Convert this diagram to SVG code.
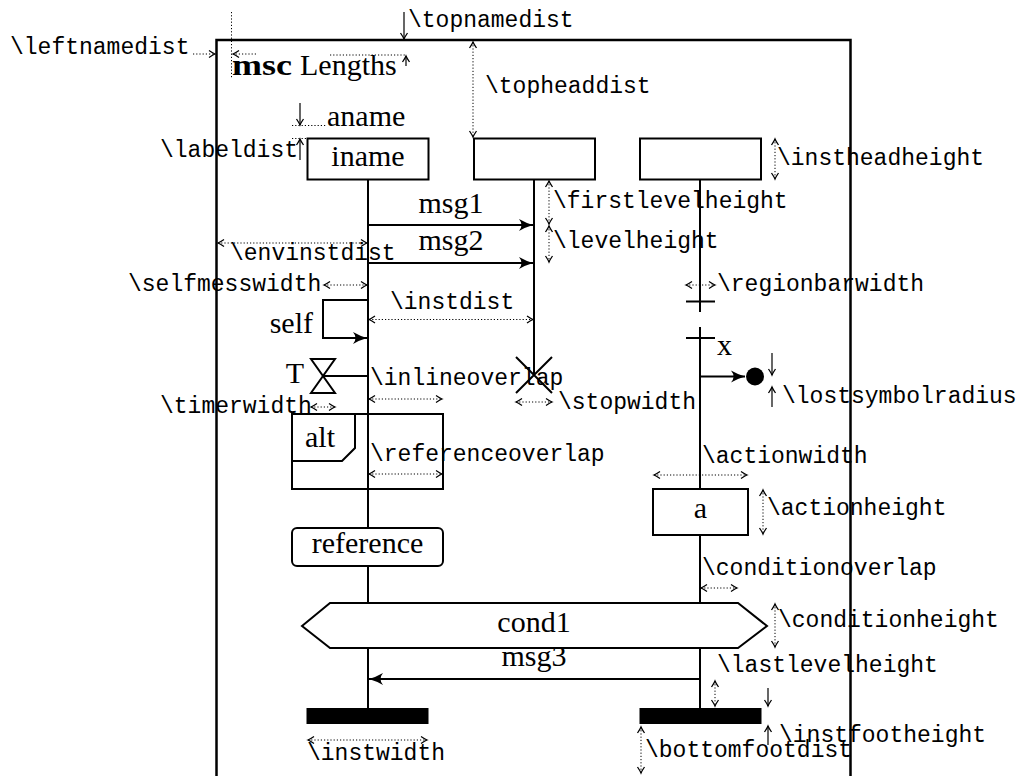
<svg xmlns="http://www.w3.org/2000/svg" width="1022" height="776" viewBox="0 0 1022 776">
<style>
.rm{font-family:"Liberation Serif","DejaVu Serif",serif;font-size:30px;fill:#000}
.tt{font-family:"Liberation Mono","DejaVu Sans Mono",monospace;font-size:23px;fill:#000}
.c{text-anchor:middle}
.e{text-anchor:end}
.ln{stroke:#000;stroke-width:2;fill:none}
.box{stroke:#000;stroke-width:2;fill:#fff}
.msg{stroke:#000;stroke-width:2;fill:none;marker-end:url(#m)}
.dim{stroke:#000;stroke-width:1;stroke-dasharray:1.2 2;fill:none;marker-start:url(#d);marker-end:url(#d)}
.dimE{stroke:#000;stroke-width:1;stroke-dasharray:1.2 2;fill:none;marker-end:url(#d)}
.dot{stroke:#000;stroke-width:1;stroke-dasharray:1.2 2;fill:none}
.sa{stroke:#000;stroke-width:1.2;fill:none;marker-end:url(#s)}
</style>
<defs>
<marker id="m" viewBox="-16 -8 18 16" markerWidth="18" markerHeight="16" refX="0" refY="0" orient="auto" markerUnits="userSpaceOnUse">
<path d="M0,0 Q-7,-2 -14,-6 Q-9,0 -14,6 Q-7,2 0,0Z" fill="#000"/>
</marker>
<marker id="d" viewBox="-8 -5 10 10" markerWidth="10" markerHeight="10" refX="0" refY="0" orient="auto-start-reverse" markerUnits="userSpaceOnUse">
<path d="M-6,-3.5 Q-2,-0.8 0,0 Q-2,0.8 -6,3.5" fill="none" stroke="#000" stroke-width="1.3"/>
</marker>
<marker id="s" viewBox="-8 -5 10 10" markerWidth="10" markerHeight="10" refX="0" refY="0" orient="auto" markerUnits="userSpaceOnUse">
<path d="M-6,-3.5 Q-2,-0.8 0,0 Q-2,0.8 -6,3.5" fill="none" stroke="#000" stroke-width="1.3"/>
</marker>
</defs>
<rect width="1022" height="776" fill="#fff"/>

<g id="frame">
<path d="M216.5,776 V40 H850.5 V776" stroke="#000" stroke-width="2.5" fill="none"/>
<text class="rm" x="232" y="75" font-weight="bold" textLength="60" lengthAdjust="spacingAndGlyphs">msc</text>
<text class="rm" x="300" y="75">Lengths</text>
</g>

<g id="lifelines">
<line class="ln" x1="368" y1="179" x2="368" y2="708"/>
<line class="ln" x1="534" y1="179" x2="534" y2="375"/>
<line class="ln" x1="700" y1="179" x2="700" y2="312"/>
<line class="ln" x1="700" y1="327" x2="700" y2="708"/>
</g>

<g id="inst1">
<rect class="box" x="307.5" y="138.5" width="121" height="41"/>
<text class="rm c" x="368" y="166">iname</text>
<text class="rm" x="327" y="126">aname</text>
<rect x="306.5" y="708" width="122" height="16" fill="#000"/>
</g>
<g id="inst2">
<rect class="box" x="474" y="138.5" width="121" height="41"/>
<path class="ln" d="M516,357 L552,393 M552,357 L516,393"/>
</g>
<g id="inst3">
<rect class="box" x="640" y="138.5" width="121" height="41"/>
<line class="ln" x1="686" y1="301.5" x2="715" y2="301.5"/>
<line class="ln" x1="686" y1="338" x2="715" y2="338"/>
<rect x="639.5" y="708" width="122" height="16" fill="#000"/>
</g>

<g id="timer">
<path class="ln" d="M311,359 H335 L311,393 H335 Z"/>
<text class="rm e" x="304" y="383">T</text>
</g>

<g id="alt">
<rect x="292" y="414" width="151" height="75" class="ln"/>
<path class="ln" d="M355,414 V448 L342,461 H292"/>
<text class="rm" x="305" y="447">alt</text>
</g>

<g id="reference">
<rect class="box" x="292" y="528" width="151" height="38" rx="5"/>
<text class="rm c" x="367.5" y="553">reference</text>
</g>

<g id="action">
<rect class="box" x="653" y="489" width="95" height="46"/>
<text class="rm c" x="700.5" y="518">a</text>
</g>

<g id="condition">
<polygon class="box" points="302,626 330,603 738,603 767,626 738,648 330,648"/>
<text class="rm c" x="534" y="632">cond1</text>
</g>

<g id="lost">
<circle cx="755" cy="376.5" r="9" fill="#000"/>
<text class="rm" x="717" y="355">x</text>
</g>

<g id="connectors">
<line class="msg" x1="369" y1="225" x2="533" y2="225"/>
<text class="rm c" x="451" y="213">msg1</text>
<line class="msg" x1="369" y1="263" x2="533" y2="263"/>
<text class="rm c" x="451" y="250">msg2</text>
<path class="msg" d="M368,300 H323 V338 H367"/>
<text class="rm e" x="313" y="333">self</text>
<line class="ln" x1="323" y1="376" x2="368" y2="376"/>
<line class="msg" x1="700" y1="376.5" x2="745" y2="376.5"/>
<line class="msg" x1="699" y1="679" x2="369" y2="679"/>
<text class="rm c" x="534" y="666">msg3</text>
</g>

<g id="dimensions">
<line class="dot" x1="231.5" y1="12" x2="231.5" y2="78"/>
<line class="dimE" x1="193" y1="54" x2="215" y2="54"/>
<line class="dimE" x1="256" y1="54" x2="233" y2="54"/>
<text class="tt" x="10" y="54">\leftnamedist</text>

<line class="sa" x1="404" y1="12" x2="404" y2="39"/>
<line class="sa" x1="406" y1="66" x2="406" y2="56"/>
<line class="dot" x1="330" y1="55" x2="405" y2="55"/>
<text class="tt" x="408" y="27">\topnamedist</text>

<line class="dim" x1="473" y1="42" x2="473" y2="137"/>
<text class="tt" x="485" y="93">\topheaddist</text>

<line class="sa" x1="300" y1="103" x2="300" y2="125"/>
<line class="dot" x1="292" y1="125.5" x2="326" y2="125.5"/>
<line class="sa" x1="300" y1="160" x2="300" y2="139"/>
<line class="dot" x1="292" y1="138.5" x2="306" y2="138.5"/>
<text class="tt" x="160" y="157">\labeldist</text>

<line class="dim" x1="775" y1="139" x2="775" y2="179"/>
<text class="tt" x="777" y="165">\instheadheight</text>

<line class="dim" x1="549" y1="181" x2="549" y2="224"/>
<text class="tt" x="553" y="208">\firstlevelheight</text>
<line class="dim" x1="549" y1="226" x2="549" y2="262"/>
<text class="tt" x="553" y="248">\levelheight</text>

<line class="dim" x1="218" y1="243" x2="367" y2="243"/>
<text class="tt" x="230" y="260">\envinstdist</text>

<line class="dim" x1="324" y1="285" x2="367" y2="285"/>
<text class="tt" x="128" y="291">\selfmesswidth</text>

<line class="dim" x1="686" y1="285" x2="715" y2="285"/>
<text class="tt" x="717" y="291">\regionbarwidth</text>

<line class="dim" x1="369" y1="319.5" x2="533" y2="319.5"/>
<text class="tt" x="390" y="309">\instdist</text>

<line class="sa" x1="772" y1="353" x2="772" y2="375"/>
<line class="sa" x1="772" y1="407" x2="772" y2="387"/>
<text class="tt" x="782" y="403">\lostsymbolradius</text>

<line class="dim" x1="369" y1="399" x2="442" y2="399"/>
<text class="tt" x="370" y="385">\inlineoverlap</text>

<line class="dim" x1="311" y1="407" x2="335" y2="407"/>
<text class="tt" x="160" y="413">\timerwidth</text>

<line class="dim" x1="516" y1="402" x2="552" y2="402"/>
<text class="tt" x="558" y="409">\stopwidth</text>

<line class="dim" x1="369" y1="474" x2="442" y2="474"/>
<text class="tt" x="370" y="461">\referenceoverlap</text>

<line class="dim" x1="654" y1="475" x2="747" y2="475"/>
<text class="tt" x="702" y="463">\actionwidth</text>

<line class="dim" x1="763" y1="490" x2="763" y2="534"/>
<text class="tt" x="767" y="515">\actionheight</text>

<line class="dim" x1="701" y1="588" x2="737" y2="588"/>
<text class="tt" x="702" y="575">\conditionoverlap</text>

<line class="dim" x1="775" y1="604" x2="775" y2="647"/>
<text class="tt" x="778" y="627">\conditionheight</text>

<line class="dim" x1="715" y1="681" x2="715" y2="706"/>
<text class="tt" x="717" y="672">\lastlevelheight</text>

<line class="sa" x1="768" y1="688" x2="768" y2="706"/>
<line class="sa" x1="768" y1="745" x2="768" y2="726"/>
<text class="tt" x="779" y="742">\instfootheight</text>

<line class="dim" x1="308" y1="740" x2="427" y2="740"/>
<text class="tt" x="307" y="760">\instwidth</text>

<line class="dim" x1="641" y1="727" x2="641" y2="773"/>
<text class="tt" x="645" y="757">\bottomfootdist</text>
</g>
</svg>
